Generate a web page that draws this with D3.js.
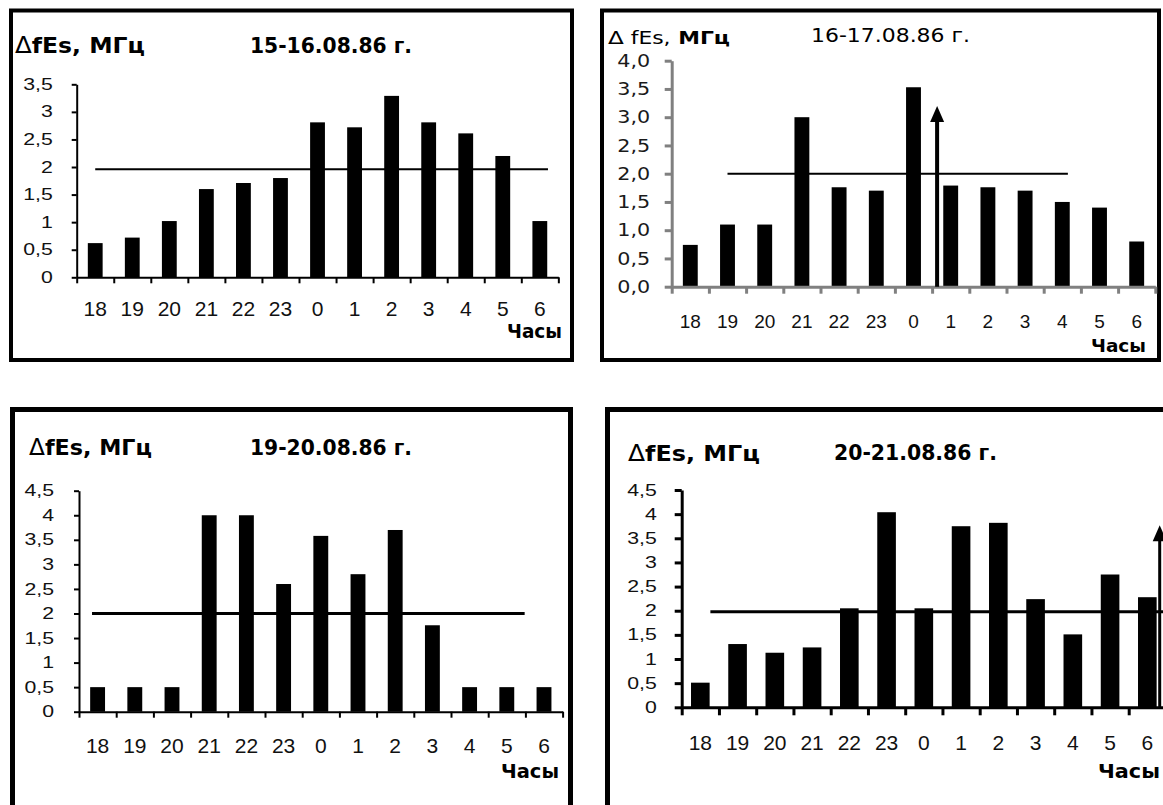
<!DOCTYPE html>
<html><head><meta charset="utf-8">
<script src="https://cdn.jsdelivr.net/npm/d3@7"></script>
<style>body{margin:0;background:#fff} svg{display:block}</style>
</head><body>
<svg id="c" width="1163" height="805"></svg>
<script>
// ---------- data ----------
const hours = ["18","19","20","21","22","23","0","1","2","3","4","5","6"];
const dates = ["15-16.08.86 г.", "16-17.08.86 г.", "19-20.08.86 г.", "20-21.08.86 г."];
const values1516 = [0.62, 0.72, 1.02, 1.6, 1.71, 1.8, 2.81, 2.72, 3.29, 2.81, 2.61, 2.2, 1.02];
const values1617 = [0.74, 1.1, 1.1, 3.0, 1.76, 1.7, 3.53, 1.79, 1.76, 1.7, 1.5, 1.4, 0.8];
const values1920 = [0.5, 0.5, 0.5, 4.0, 4.0, 2.6, 3.58, 2.8, 3.7, 1.76, 0.5, 0.5, 0.5];
const values2021 = [0.51, 1.31, 1.13, 1.24, 2.05, 4.04, 2.05, 3.75, 3.82, 2.24, 1.51, 2.75, 2.28];
const thresholds = [1.96, 2.0, 2.0, 1.98];
const yTicks1516 = [0, 0.5, 1, 1.5, 2, 2.5, 3, 3.5];
const yTicks1617 = [0, 0.5, 1, 1.5, 2, 2.5, 3, 3.5, 4];
const yTicks1920 = [0, 0.5, 1, 1.5, 2, 2.5, 3, 3.5, 4, 4.5];
const yTicks2021 = [0, 0.5, 1, 1.5, 2, 2.5, 3, 3.5, 4, 4.5];
const arrowHours = ["1", "6"];
const arrowValues = [3.2, 3.77];
const yLabel = "ΔfEs, МГц";
const xLabel = "Часы";

// ---------- drawing ----------
const svg = d3.select("#c");
const fmtComma = d => String(d).replace(".", ",");
const fmtOne = d => d.toFixed(1).replace(".", ",");

const panels = [
  { values: values1516, date: dates[0], thr: thresholds[0], yTicks: yTicks1516, fmt: fmtComma, yMax: 3.5,
    frame: {x: 11, y: 10.5, w: 561, h: 349.5, sw: 4},
    x0: 76.7, step: 37.05, yBase: 277.3, yTop: 84.3, pad: 0.6,
    axisColor: "#000", axisW: 2, yTick: 5, xTick: 6, xPad: 24, yPad: 19,
    yFont: "16px 'Liberation Sans', Arial", ySx: 1.33, yColor: "#111",
    xFont: "21px 'Liberation Sans', Arial",
    thrFrom: 0.5, thrTo: 12.72, thrW: 2,
    title: {x: 15, y: 53, size: 22, len: 130, fEsBold: true},
    dateX: 250, dateY: 53, dateSize: 20.5, dateLen: 162, dateWeight: "bold",
    hoursLabel: {x: 507, y: 338, len: 55, size: 19} },
  { values: values1617, date: dates[1], thr: thresholds[1], yTicks: yTicks1617, fmt: fmtOne, yMax: 4,
    frame: {x: 602, y: 10.5, w: 557, h: 349.5, sw: 4},
    x0: 671.7, step: 37.2, yBase: 286.7, yTop: 60.7, pad: 0.6,
    axisColor: "#808080", axisW: 3, yTick: 7, xTick: 7, xPad: 28, yPad: 14.5,
    yFont: "18px 'DejaVu Sans'", ySx: 1.15, yColor: "#1a1a1a",
    xFont: "19px 'Liberation Sans', Arial",
    thrFrom: 1.5, thrTo: 10.65, thrW: 2,
    title: {x: 608, y: 43.5, size: 17, len: 122, fEsBold: false},
    dateX: 811, dateY: 42, dateSize: 19, dateLen: 159, dateWeight: "normal",
    hoursLabel: {x: 1091, y: 352, len: 55, size: 17},
    arrow: {hour: arrowHours[0], value: arrowValues[0], off: 5, w: 4} },
  { values: values1920, date: dates[2], thr: thresholds[2], yTicks: yTicks1920, fmt: fmtComma, yMax: 4.5,
    frame: {x: 12.5, y: 409.5, w: 558, h: 430, sw: 5},
    x0: 79, step: 37.2, yBase: 711.7, yTop: 490.7, pad: 0.6,
    axisColor: "#000", axisW: 2, yTick: 5, xTick: 6, xPad: 26, yPad: 20,
    yFont: "16px 'Liberation Sans', Arial", ySx: 1.33, yColor: "#111",
    xFont: "21px 'Liberation Sans', Arial",
    thrFrom: 0.35, thrTo: 11.98, thrW: 3,
    title: {x: 29, y: 455, size: 22, len: 123, fEsBold: true},
    dateX: 250, dateY: 455, dateSize: 20.5, dateLen: 162, dateWeight: "bold",
    hoursLabel: {x: 501, y: 778, len: 58, size: 20} },
  { values: values2021, date: dates[3], thr: thresholds[3], yTicks: yTicks2021, fmt: fmtComma, yMax: 4.5,
    frame: {x: 607.5, y: 409.5, w: 600, h: 430, sw: 5},
    x0: 681.7, step: 37.25, yBase: 707.3, yTop: 490, pad: 0.5,
    axisColor: "#000", axisW: 3, yTick: 7, xTick: 8, xPad: 28, yPad: 18,
    yFont: "16px 'Liberation Sans', Arial", ySx: 1.33, yColor: "#111",
    xFont: "21px 'Liberation Sans', Arial",
    thrFrom: 0.77, thrTo: 13.5, thrW: 3,
    title: {x: 628, y: 461, size: 22, len: 132, fEsBold: true},
    dateX: 834, dateY: 460, dateSize: 20.5, dateLen: 163, dateWeight: "bold",
    hoursLabel: {x: 1098, y: 778, len: 62, size: 20},
    arrow: {hour: arrowHours[1], value: arrowValues[1], off: 31, w: 3} }
];

panels.forEach(p => {
  const g = svg.append("g");
  const n = hours.length;
  const xEnd = p.x0 + n * p.step;

  // frame
  g.append("rect").attr("x", p.frame.x).attr("y", p.frame.y)
    .attr("width", p.frame.w).attr("height", p.frame.h)
    .attr("fill", "none").attr("stroke", "#000").attr("stroke-width", p.frame.sw);

  const x = d3.scaleBand().domain(hours).range([p.x0, xEnd])
    .paddingInner(p.pad).paddingOuter(p.pad / 2);
  const xi = d3.scaleLinear().domain([0, n]).range([p.x0, xEnd]);
  const y = d3.scaleLinear().domain([0, p.yMax]).range([p.yBase, p.yTop]);

  // bars
  g.selectAll("rect.bar").data(p.values).join("rect").attr("class", "bar")
    .attr("x", (d, i) => x(hours[i])).attr("width", x.bandwidth())
    .attr("y", d => y(d)).attr("height", d => y(0) - y(d)).attr("fill", "#000");

  // threshold line
  g.append("line")
    .attr("x1", xi(p.thrFrom)).attr("x2", xi(p.thrTo))
    .attr("y1", y(p.thr)).attr("y2", y(p.thr))
    .attr("stroke", "#000").attr("stroke-width", p.thrW);

  // y axis
  const ya = g.append("g").attr("transform", `translate(${p.x0},0)`)
    .call(d3.axisLeft(y).tickValues(p.yTicks).tickSize(p.yTick).tickSizeOuter(0)
      .tickPadding(p.yPad).tickFormat(p.fmt));
  ya.select(".domain").attr("stroke", p.axisColor).attr("stroke-width", p.axisW);
  ya.selectAll(".tick line").attr("stroke", p.axisColor).attr("stroke-width", p.axisW);
  ya.selectAll(".tick text").style("font", p.yFont).attr("fill", p.yColor)
    .attr("x", -(p.yTick + p.yPad) / p.ySx).attr("transform", `scale(${p.ySx},1)`);

  // x axis ticks at band boundaries
  const xa = g.append("g").attr("transform", `translate(0,${p.yBase})`)
    .call(d3.axisBottom(xi).tickValues(d3.range(n + 1)).tickSize(p.xTick).tickSizeOuter(0).tickFormat(""));
  xa.select(".domain").attr("stroke", p.axisColor).attr("stroke-width", p.axisW);
  xa.selectAll(".tick line").attr("stroke", p.axisColor).attr("stroke-width", p.axisW);

  // x labels
  const xl = g.append("g").attr("transform", `translate(0,${p.yBase})`)
    .call(d3.axisBottom(x).tickSize(0).tickPadding(p.xPad));
  xl.select(".domain").remove();
  xl.selectAll(".tick text").style("font", p.xFont).attr("fill", "#111");

  // arrow
  if (p.arrow) {
    const ax = x(p.arrow.hour) - x.step() * p.pad / 2 + p.arrow.off;
    const tip = y(p.arrow.value);
    g.append("line").attr("x1", ax).attr("x2", ax).attr("y1", y(0)).attr("y2", tip + 10)
      .attr("stroke", "#000").attr("stroke-width", p.arrow.w);
    g.append("path").attr("d", `M${ax},${tip}L${ax - 7},${tip + 16}L${ax + 7},${tip + 16}Z`).attr("fill", "#000");
  }

  // titles
  const t = g.append("text").attr("x", p.title.x).attr("y", p.title.y)
    .attr("textLength", p.title.len).attr("lengthAdjust", "spacingAndGlyphs")
    .style("font-family", "'DejaVu Sans'").style("font-size", p.title.size + "px").attr("fill", "#000");
  t.append("tspan").text(yLabel.slice(0, 1)).style("font-weight", "normal").style("font-size", (p.title.size + 1) + "px");
  if (p.title.fEsBold) {
    t.append("tspan").text(yLabel.slice(1)).style("font-weight", "bold");
  } else {
    t.append("tspan").text(" fEs,").style("font-weight", "normal");
    t.append("tspan").text(" МГц").style("font-weight", "bold");
  }
  g.append("text").attr("x", p.dateX).attr("y", p.dateY).text(p.date)
    .attr("textLength", p.dateLen).attr("lengthAdjust", "spacingAndGlyphs")
    .style("font-family", "'DejaVu Sans'").style("font-size", p.dateSize + "px")
    .style("font-weight", p.dateWeight).attr("fill", "#000");

  g.append("text").attr("x", p.hoursLabel.x).attr("y", p.hoursLabel.y).text(xLabel)
    .attr("textLength", p.hoursLabel.len).attr("lengthAdjust", "spacingAndGlyphs")
    .style("font-family", "'DejaVu Sans'").style("font-size", p.hoursLabel.size + "px")
    .style("font-weight", "bold").attr("fill", "#000");
});
</script>
</body></html>
